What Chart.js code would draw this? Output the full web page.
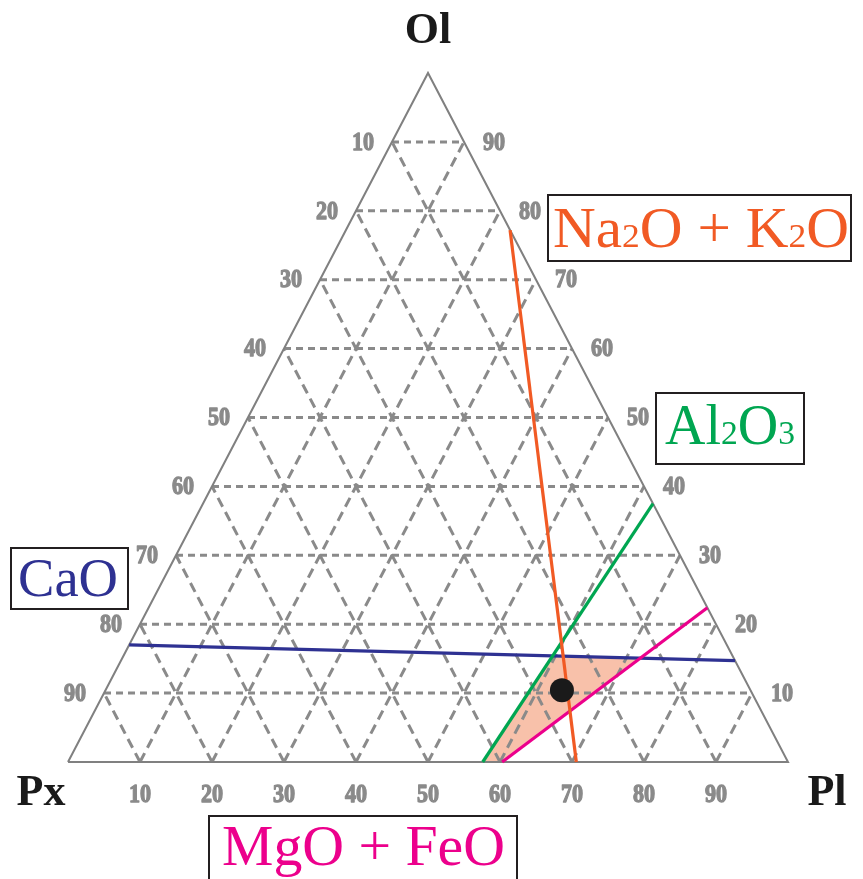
<!DOCTYPE html>
<html><head><meta charset="utf-8">
<script src="https://cdn.jsdelivr.net/npm/chart.js@4.4.1/dist/chart.umd.min.js"></script>
<style>html,body{margin:0;padding:0;background:#fff;}canvas{display:block;}</style>
</head><body>
<canvas id="c" width="863" height="879"></canvas>
<script>
// ---- data (ternary compositions in %, as [Px, Ol, Pl]) ----
const gridLevels = [10, 20, 30, 40, 50, 60, 70, 80, 90];
const leftTickLabels = ['10', '20', '30', '40', '50', '60', '70', '80', '90'];   // Px along Px–Ol edge
const rightTickLabels = ['90', '80', '70', '60', '50', '40', '30', '20', '10'];  // Ol along Ol–Pl edge
const bottomTickLabels = ['10', '20', '30', '40', '50', '60', '70', '80', '90']; // Pl along base
const vertexNames = ['Px', 'Ol', 'Pl'];
const lineNaK = [[29.4, 0, 70.6], [0, 77.2, 22.8]];
const lineAl = [[42.4, 0, 57.6], [0, 37.5, 62.5]];
const lineMgFe = [[39.7, 0, 60.3], [0, 22.4, 77.6]];
const lineCa = [[83.0, 17.0, 0], [0, 14.7, 85.3]];
const samplePoint = [26.2, 10.4, 63.4];

// ---- helpers ----
const toXY = t => ({ x: t[2] + t[1] / 2, y: t[1] });
function intersect(a, b) {
  const p1 = toXY(a[0]), p2 = toXY(a[1]), p3 = toXY(b[0]), p4 = toXY(b[1]);
  const d = (p1.x - p2.x) * (p3.y - p4.y) - (p1.y - p2.y) * (p3.x - p4.x);
  const t = ((p1.x - p3.x) * (p3.y - p4.y) - (p1.y - p3.y) * (p3.x - p4.x)) / d;
  return { x: p1.x + t * (p2.x - p1.x), y: p1.y + t * (p2.y - p1.y) };
}

const GRID = '#8a8a8a';
const datasets = [];

// shaded field
const poly = [intersect(lineAl, lineCa), intersect(lineCa, lineMgFe), toXY(lineMgFe[0]), toXY(lineAl[0])];
poly.push(poly[0]);
datasets.push({ data: poly, showLine: true, fill: 'shape', backgroundColor: '#f8c1aa',
  borderWidth: 0, pointRadius: 0, order: 20, clip: false });

// grid lines
gridLevels.forEach(v => {
  datasets.push({ data: [toXY([100 - v, v, 0]), toXY([0, v, 100 - v])], showLine: true,
    borderColor: GRID, borderWidth: 3, borderDash: [7, 5], pointRadius: 0, order: 15, clip: false });
  datasets.push({ data: [toXY([100 - v, 0, v]), toXY([0, 100 - v, v])], showLine: true,
    borderColor: GRID, borderWidth: 3, borderDash: [10, 6], pointRadius: 0, order: 15, clip: false });
  datasets.push({ data: [toXY([v, 0, 100 - v]), toXY([v, 100 - v, 0])], showLine: true,
    borderColor: GRID, borderWidth: 3, borderDash: [10, 6], pointRadius: 0, order: 15, clip: false });
});

// triangle outline
datasets.push({ data: [toXY([100, 0, 0]), toXY([0, 0, 100]), toXY([0, 100, 0]), toXY([100, 0, 0])],
  showLine: true, borderColor: '#808080', borderWidth: 2, pointRadius: 0, order: 12, clip: false });

// oxide lines
[[lineNaK, '#f15a24'], [lineAl, '#00a651'], [lineMgFe, '#ec008c'], [lineCa, '#2e3192']].forEach(([l, c]) => {
  datasets.push({ data: l.map(toXY), showLine: true, borderColor: c, borderWidth: 3.2,
    pointRadius: 0, order: 5, clip: false });
});

// sample point
datasets.push({ data: [toXY(samplePoint)], pointRadius: 12, backgroundColor: '#1a1a1a',
  borderWidth: 0, order: 1, clip: false });

function richText(ctx, x, y, segs, size, color, targetW) {
  const font = k => (size * k) + 'px "Liberation Serif", "DejaVu Serif", serif';
  let w = 0;
  segs.forEach(([s, k]) => { ctx.font = font(k); w += ctx.measureText(s).width; });
  const sx = targetW ? targetW / w : 1;
  ctx.save();
  ctx.translate(x, y); ctx.scale(sx, 1);
  ctx.fillStyle = color;
  ctx.textAlign = 'left'; ctx.textBaseline = 'alphabetic';
  let cx = 0;
  segs.forEach(([s, k]) => {
    ctx.font = font(k);
    ctx.fillText(s, cx, 0);
    cx += ctx.measureText(s).width;
  });
  ctx.restore();
}
function box(ctx, x, y, w, h) {
  ctx.strokeStyle = '#231f20'; ctx.lineWidth = 2;
  ctx.strokeRect(x, y, w, h);
}

const labelsPlugin = {
  id: 'labels',
  afterDraw(chart) {
    const ctx = chart.ctx, xs = chart.scales.x, ys = chart.scales.y;
    const px = t => { const p = toXY(t); return { x: xs.getPixelForValue(p.x), y: ys.getPixelForValue(p.y) }; };
    ctx.save();
    const tickFont = 'bold 26px "Liberation Serif", "DejaVu Serif", serif';
    function tick(txt, x, y, align) {
      ctx.save();
      ctx.translate(x, y); ctx.scale(0.85, 1);
      ctx.font = tickFont; ctx.textAlign = align; ctx.textBaseline = 'middle';
      ctx.fillStyle = GRID; ctx.strokeStyle = GRID; ctx.lineWidth = 1.3; ctx.lineJoin = 'round';
      ctx.strokeText(txt, 0, 0);
      ctx.fillText(txt, 0, 0);
      ctx.restore();
    }
    leftTickLabels.forEach((s, i) => { const v = gridLevels[i]; const p = px([v, 100 - v, 0]); tick(s, p.x - 18, p.y + 1, 'right'); });
    rightTickLabels.forEach((s, i) => { const v = 100 - gridLevels[i]; const p = px([0, v, 100 - v]); tick(s, p.x + 19, p.y + 1, 'left'); });
    bottomTickLabels.forEach((s, i) => { const v = gridLevels[i]; const p = px([100 - v, 0, v]); tick(s, p.x, p.y + 33, 'center'); });

    // vertex labels
    ctx.fillStyle = '#1a1a1a';
    ctx.font = 'bold 44px "Liberation Serif", "DejaVu Serif", serif';
    ctx.textBaseline = 'alphabetic'; ctx.textAlign = 'center';
    const vPx = px([100, 0, 0]), vOl = px([0, 100, 0]), vPl = px([0, 0, 100]);
    ctx.fillText(vertexNames[1], vOl.x, vOl.y - 30);
    ctx.fillText(vertexNames[0], vPx.x - 27, vPx.y + 43);
    ctx.fillText(vertexNames[2], vPl.x + 39, vPl.y + 43);

    // annotation boxes
    box(ctx, 548, 195, 303, 66);
    richText(ctx, 553, 247, [['Na', 1], ['2', 0.6], ['O + K', 1], ['2', 0.6], ['O', 1]], 56, '#f15a24', 296);
    box(ctx, 656, 393, 148, 71);
    richText(ctx, 665, 444, [['Al', 1], ['2', 0.6], ['O', 1], ['3', 0.6]], 56, '#00a651', 130);
    box(ctx, 11, 548, 117, 61);
    richText(ctx, 18, 596, [['CaO', 1]], 55, '#2e3192', 100);
    box(ctx, 209, 816, 308, 70);
    richText(ctx, 222, 865, [['MgO + FeO', 1]], 57, '#ec008c', 283);
    ctx.restore();
  }
};

new Chart(document.getElementById('c'), {
  type: 'scatter',
  data: { datasets },
  options: {
    responsive: false, animation: false, devicePixelRatio: 1,
    layout: { padding: { left: 68, right: 75, top: 73, bottom: 117 } },
    scales: {
      x: { type: 'linear', min: 0, max: 100, display: false },
      y: { type: 'linear', min: 0, max: 100, display: false }
    },
    plugins: { legend: { display: false }, tooltip: { enabled: false } },
    events: []
  },
  plugins: [labelsPlugin, { id: 'bg', beforeDraw(c) { c.ctx.save(); c.ctx.fillStyle = '#fff'; c.ctx.fillRect(0, 0, c.width, c.height); c.ctx.restore(); } }]
});
</script>
</body></html>
